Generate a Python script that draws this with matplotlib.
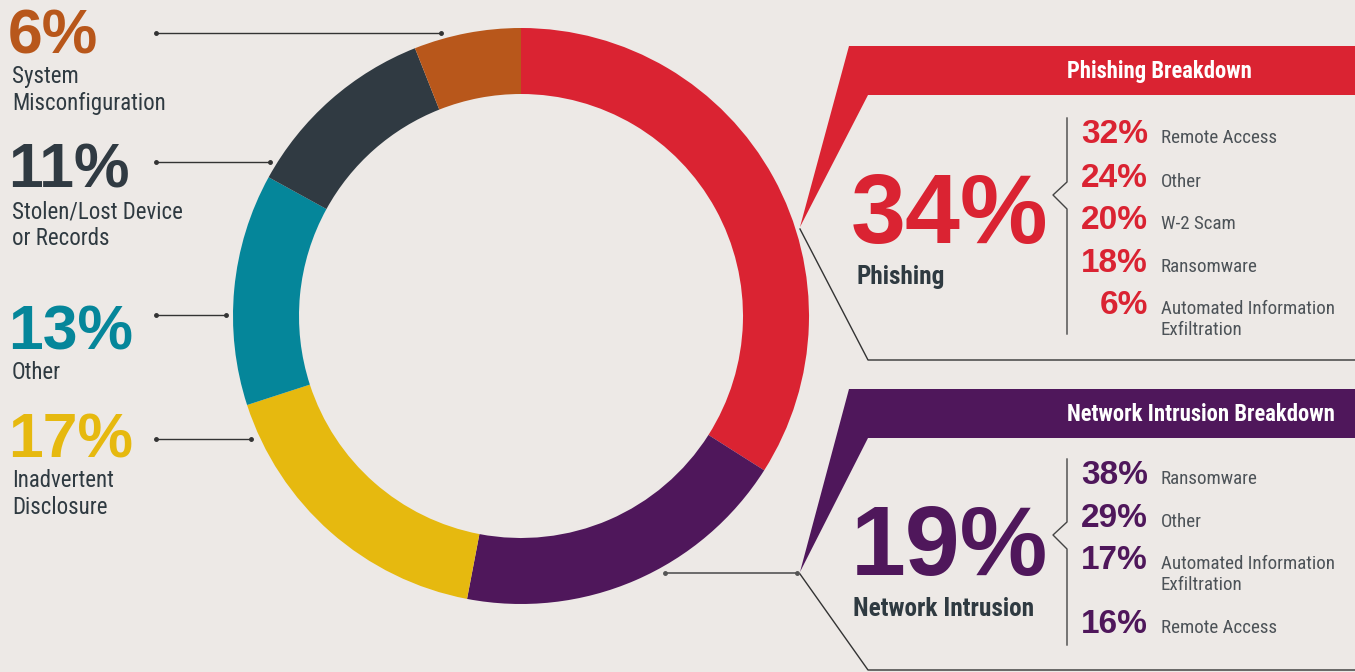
import matplotlib
matplotlib.use('Agg')
import matplotlib.pyplot as plt
from matplotlib import font_manager

# --- data ---
categories = ['Phishing', 'Network Intrusion', 'Inadvertent Disclosure',
              'Other', 'Stolen/Lost Device or Records', 'System Misconfiguration']
shares = [34, 19, 17, 13, 11, 6]
seg_colors = ['#DA2332', '#4F175B', '#E6B90F', '#05869A', '#303A42', '#B8571B']

left_pct = [6, 11, 13, 17]
left_lines = [['System', 'Misconfiguration'], ['Stolen/Lost Device', 'or Records'],
              ['Other'], ['Inadvertent', 'Disclosure']]
left_colors = ['#B8571B', '#303A42', '#05869A', '#E6B90F']

phish_pct = [32, 24, 20, 18, 6]
phish_labels = [['Remote Access'], ['Other'], ['W-2 Scam'], ['Ransomware'],
                ['Automated Information', 'Exfiltration']]
net_pct = [38, 29, 17, 16]
net_labels = [['Ransomware'], ['Other'], ['Automated Information', 'Exfiltration'],
              ['Remote Access']]

BG = '#EDE9E6'
DARK = '#2F3A41'
SUB = '#4D5358'
W, H = 1355, 672

names = {f.name for f in font_manager.fontManager.ttflist}
NARROW = 'Liberation Sans'
for cand in ['Roboto Condensed', 'Archivo Narrow', 'PT Sans Narrow', 'Pragati Narrow',
             'IBM Plex Sans Condensed', 'Liberation Sans Narrow']:
    if cand in names:
        NARROW = cand
        break
BOLD = 'Liberation Sans'

fig = plt.figure(figsize=(W / 100, H / 100), dpi=100, facecolor=BG)
ax = fig.add_axes([0, 0, 1, 1])
ax.set_facecolor(BG)

# donut (y axis is inverted, so counterclock=True draws clockwise on screen)
ax.pie(shares, colors=seg_colors, startangle=-90, counterclock=True,
       center=(521, 316), radius=288, wedgeprops=dict(width=66, linewidth=0))

ax.set_xlim(0, W)
ax.set_ylim(H, 0)
ax.set_aspect('equal')
ax.axis('off')

# left labels
num_base = [53, 188, 349, 457]
line_y = [33, 162, 315, 439]
line_end = [441, 270, 226, 251]
for i in range(len(left_pct)):
    ax.text(8, num_base[i], f'{left_pct[i]}%', color=left_colors[i], fontsize=45,
            fontweight='bold', family=BOLD, va='baseline', ha='left')
    for j, ln in enumerate(left_lines[i]):
        ax.text(12, num_base[i] + 30 + 27 * j, ln, color=DARK, fontsize=16.5,
                family=NARROW, va='baseline', ha='left')
    ax.plot([156, line_end[i]], [line_y[i], line_y[i]], color='#333333', lw=1,
            marker='o', markersize=2.5)


def panel(top, bot, apex_y, low_y, title, color, big, big_label, pct, labels,
          item_base, brk, notch):
    # header band with the pointer triangle
    ax.fill([849, W, W, 868, 800], [top, top, bot, bot, apex_y], color=color, lw=0)
    ax.plot([800, 868, W], [apex_y + 2, low_y, low_y], color='#333333', lw=1)
    ax.text(1067, bot - 17, title, color='white', fontsize=16.3, fontweight='bold',
            family=NARROW, va='baseline', ha='left')
    ax.text(851, big[1], big[0], color=color, fontsize=71, fontweight='bold',
            family=BOLD, va='baseline', ha='left')
    ax.text(big_label[1], big_label[2], big_label[0], color=DARK, fontsize=18.2,
            fontweight='bold', family=NARROW, va='baseline', ha='left')
    # bracket
    ax.plot([1067, 1067, 1053, 1067, 1067],
            [brk[0], notch - 13, notch, notch + 14, brk[1]], color='#444444', lw=1)
    for k in range(len(pct)):
        ax.text(1148, item_base[k], f'{pct[k]}%', color=color, fontsize=24,
                fontweight='bold', family=BOLD, va='baseline', ha='right')
        for j, ln in enumerate(labels[k]):
            ax.text(1161, item_base[k] + 21 * j, ln, color=SUB, fontsize=13.7,
                    family=NARROW, va='baseline', ha='left')


panel(46, 95, 227, 360, 'Phishing Breakdown', '#DA2332', ('34%', 243),
      ('Phishing', 857, 284), phish_pct, phish_labels,
      [143, 187, 229, 272, 314], (118, 334), 195)
panel(389, 438, 572, 670, 'Network Intrusion Breakdown', '#4F175B', ('19%', 575),
      ('Network Intrusion', 853, 616), net_pct, net_labels,
      [484, 527, 569, 633], (459, 645), 535)

# connector to the network intrusion panel
ax.plot([665, 797], [573, 573], color='#555555', lw=1.2, marker='o', markersize=2.5)

fig.savefig('out.png', dpi=100, facecolor=BG)
